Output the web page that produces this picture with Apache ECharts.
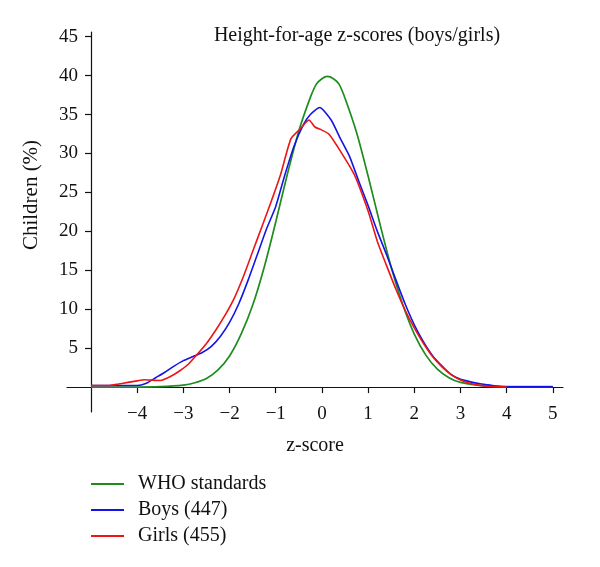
<!DOCTYPE html>
<html>
<head>
<meta charset="utf-8">
<script src="https://cdn.jsdelivr.net/npm/echarts@6/dist/echarts.min.js"></script>
<style>html,body{margin:0;padding:0;background:#fff}#c{width:600px;height:567px}</style>
</head>
<body>
<div id="c"></div>
<script>
var titleText = 'Height-for-age z-scores (boys/girls)';
var seriesNames = ['WHO standards', 'Boys (447)', 'Girls (455)'];
var xTicks = [-4, -3, -2, -1, 0, 1, 2, 3, 4, 5];
var yTicks = [5, 10, 15, 20, 25, 30, 35, 40, 45];

var whoZ = [-5, -4, -3.5, -3, -2.75, -2.5, -2.25, -2, -1.75, -1.5, -1.25, -1, -0.75, -0.5, -0.25, -0.12, 0, 0.12, 0.25, 0.37, 0.5, 0.75, 1, 1.25, 1.5, 1.75, 2, 2.25, 2.5, 2.75, 3, 3.5, 4, 5];
var whoV = [0, 0, 0.05, 0.25, 0.55, 1.1, 2.2, 4.0, 6.8, 10.5, 15.4, 21.2, 27.3, 32.9, 37.2, 38.9, 39.6, 39.9, 39.6, 38.9, 37.1, 32.7, 27.1, 21.1, 15.4, 10.6, 6.8, 4.1, 2.3, 1.2, 0.6, 0.15, 0.05, 0.05];

var boysZ = [-5, -4.5, -4, -3.8, -3.6, -3.4, -3.2, -3, -2.8, -2.6, -2.4, -2.2, -2, -1.8, -1.6, -1.4, -1.2, -1, -0.8, -0.6, -0.4, -0.25, -0.05, 0.2, 0.4, 0.6, 0.8, 1, 1.2, 1.4, 1.6, 1.8, 2, 2.2, 2.4, 2.6, 2.8, 3, 3.2, 3.4, 3.6, 3.8, 4, 4.5, 5];
var boysV = [0.2, 0.2, 0.2, 0.5, 1.2, 1.9, 2.7, 3.4, 3.9, 4.4, 5.2, 6.5, 8.3, 10.7, 13.7, 17.0, 20.3, 23.2, 27.3, 31.0, 33.7, 35.0, 35.9, 34.3, 31.9, 29.6, 26.4, 23.3, 20.0, 17.0, 13.8, 10.7, 8.0, 5.8, 4.0, 2.7, 1.6, 1.0, 0.7, 0.45, 0.28, 0.12, 0.05, 0.05, 0.05];

var girlsZ = [-5, -4.6, -4.4, -4.2, -4, -3.85, -3.7, -3.5, -3.3, -3.1, -2.9, -2.7, -2.5, -2.3, -2.1, -1.9, -1.7, -1.5, -1.3, -1.1, -0.9, -0.67, -0.48, -0.28, -0.15, 0, 0.15, 0.4, 0.7, 1, 1.2, 1.4, 1.6, 1.8, 2, 2.2, 2.4, 2.6, 2.8, 3, 3.2, 3.4, 3.6, 3.8, 4];
var girlsV = [0.2, 0.2, 0.4, 0.6, 0.8, 0.95, 0.9, 0.85, 1.3, 2.0, 2.9, 4.2, 5.6, 7.3, 9.2, 11.4, 14.2, 17.4, 20.6, 23.8, 27.2, 31.9, 33.1, 34.3, 33.4, 33.0, 32.5, 30.3, 27.3, 22.6, 18.7, 15.6, 12.6, 9.9, 7.6, 5.6, 3.9, 2.6, 1.6, 0.9, 0.5, 0.25, 0.1, 0.05, 0];

function pairs(xs, ys) { return xs.map(function (x, i) { return [x, ys[i]]; }); }

var FONT = 'Liberation Serif';
var chart = echarts.init(document.getElementById('c'), null, { renderer: 'canvas' });
chart.setOption({
  animation: false,
  backgroundColor: '#fff',
  title: {
    text: titleText,
    left: 352, top: 21, textAlign: 'center',
    textStyle: { fontFamily: FONT, fontSize: 20, fontWeight: 'normal', color: '#111' }
  },
  legend: {
    orient: 'vertical', left: 91, top: 474, padding: 0,
    icon: 'rect', itemWidth: 33, itemHeight: 2, itemGap: 6,
    data: seriesNames,
    textStyle: { fontFamily: FONT, fontSize: 20, lineHeight: 20, color: '#111', padding: [0, 0, 0, 9] }
  },
  grid: [
    { left: 67, right: 37, top: 32, bottom: 155 },
    { left: 91, right: 37, top: 32, bottom: 155 }
  ],
  xAxis: [
    {
      gridIndex: 0, type: 'value', min: -5.52, max: 5.22,
      axisLine: { onZero: true, lineStyle: { color: '#111', width: 1.2 } },
      axisTick: { show: false }, axisLabel: { show: false }, splitLine: { show: false },
      name: 'z-score', nameLocation: 'middle', nameGap: 24,
      nameTextStyle: { fontFamily: FONT, fontSize: 20, color: '#111' }
    },
    {
      gridIndex: 1, type: 'value', min: -5, max: 5.22,
      axisLine: { show: false },
      axisTick: { show: true, customValues: xTicks, length: 6, lineStyle: { color: '#111', width: 1.2 } },
      axisLabel: {
        customValues: xTicks, margin: -7,
        fontFamily: FONT, fontSize: 19, color: '#111',
        formatter: function (v) { return v < 0 ? '\u2212' + Math.abs(v) : String(v); }
      },
      splitLine: { show: false }
    }
  ],
  yAxis: [
    {
      gridIndex: 0, type: 'value', min: -3.2, max: 45.6,
      axisLine: { show: false }, axisTick: { show: false }, axisLabel: { show: false }, splitLine: { show: false }
    },
    {
      gridIndex: 1, type: 'value', min: -3.2, max: 45.6,
      axisLine: { show: true, onZero: false, lineStyle: { color: '#111', width: 1.2 } },
      axisTick: { show: true, customValues: yTicks, length: 6, lineStyle: { color: '#111', width: 1.2 } },
      axisLabel: { customValues: yTicks, margin: 13, fontFamily: FONT, fontSize: 19, color: '#111' },
      splitLine: { show: false },
      name: 'Children (%)', nameLocation: 'middle', nameGap: 49,
      nameTextStyle: { fontFamily: FONT, fontSize: 21, color: '#111', padding: [0, 0, 0, 54] }
    }
  ],
  series: [
    {
      name: seriesNames[0], type: 'line', xAxisIndex: 1, yAxisIndex: 1,
      data: pairs(whoZ, whoV), smooth: 0.3, symbol: 'none',
      lineStyle: { color: '#1e8c1e', width: 1.7 }, itemStyle: { color: '#1e8c1e' }
    },
    {
      name: seriesNames[1], type: 'line', xAxisIndex: 1, yAxisIndex: 1,
      data: pairs(boysZ, boysV), smooth: 0.2, symbol: 'none',
      lineStyle: { color: '#1414e6', width: 1.6 }, itemStyle: { color: '#1414e6' }
    },
    {
      name: seriesNames[2], type: 'line', xAxisIndex: 1, yAxisIndex: 1,
      data: pairs(girlsZ, girlsV), smooth: 0.2, symbol: 'none',
      lineStyle: { color: '#ee1414', width: 1.6 }, itemStyle: { color: '#ee1414' }
    }
  ]
});
</script>
</body>
</html>
